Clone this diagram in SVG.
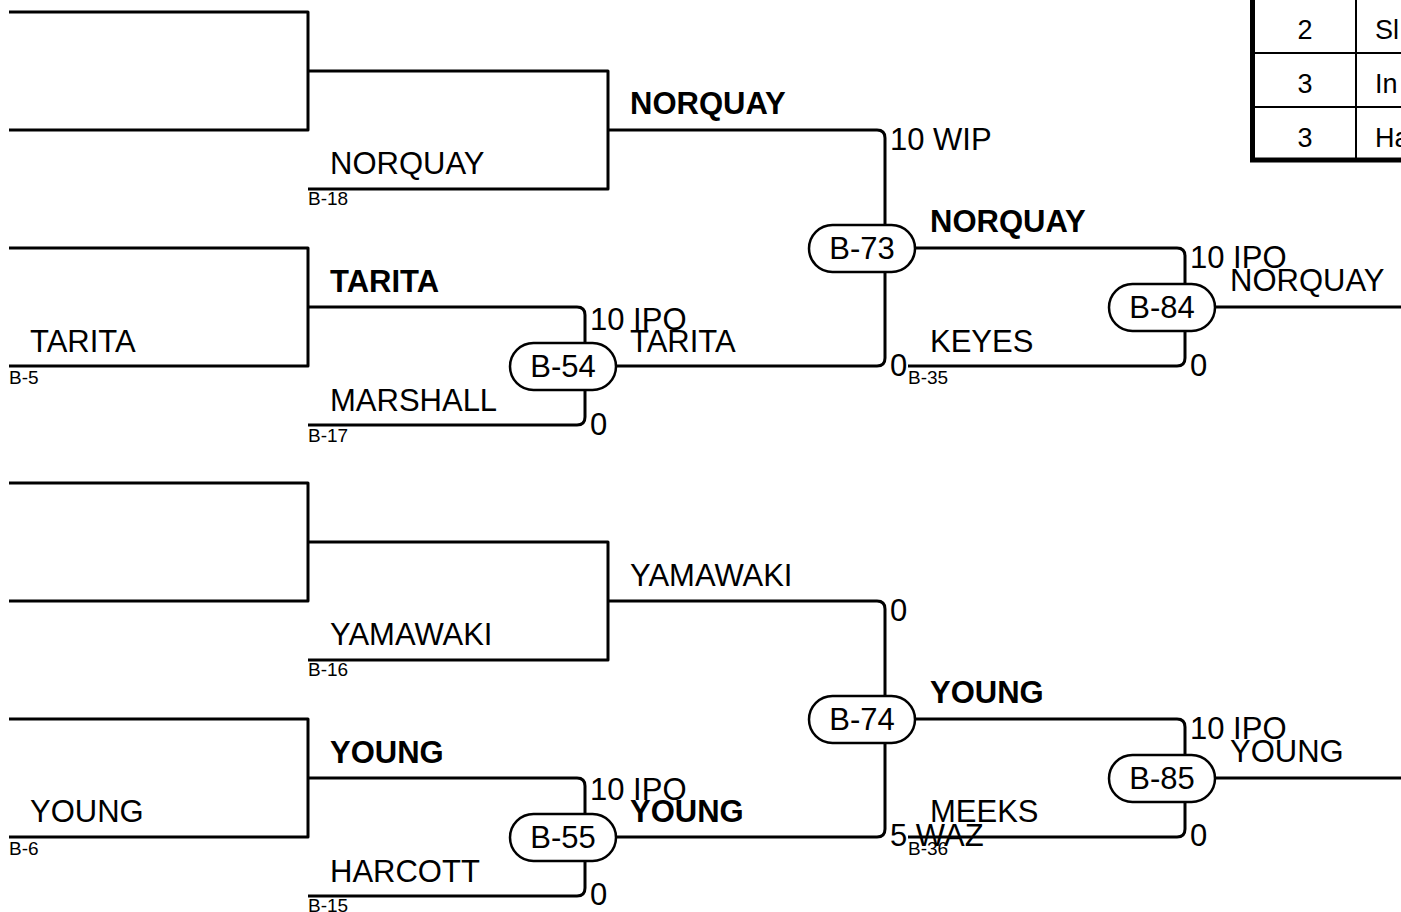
<svg xmlns="http://www.w3.org/2000/svg" width="1401" height="912" viewBox="0 0 1401 912">
<style>
.ln{fill:none;stroke:#000;stroke-width:3;stroke-linejoin:round}
.pill{fill:#fff;stroke:#000;stroke-width:2.5}
text{font-family:"Liberation Sans",Arial,sans-serif;fill:#000}
.t{font-size:31px}
.b{font-size:31px;font-weight:bold}
.s{font-size:19px}
.pl{font-size:31px;text-anchor:middle}
.tb{font-size:27px}
</style>
<rect width="1401" height="912" fill="#fff"/>
<g id="connectors">
<path class="ln" d="M9,12 H308 V130 H9"/>
<path class="ln" d="M308,71 H608 V189 H308"/>
<path class="ln" d="M608,130 H877 Q885,130 885,138 V358 Q885,366 877,366 H611"/>
<path class="ln" d="M910,248 H1177 Q1185,248 1185,256 V358 Q1185,366 1177,366 H908"/>
<path class="ln" d="M1210,307 H1401"/>
<path class="ln" d="M9,248 H308 V366 H9"/>
<path class="ln" d="M308,307 H577 Q585,307 585,315 V417 Q585,425 577,425 H308"/>
<path class="ln" d="M9,483 H308 V601 H9"/>
<path class="ln" d="M308,542 H608 V660 H308"/>
<path class="ln" d="M608,601 H877 Q885,601 885,609 V829 Q885,837 877,837 H611"/>
<path class="ln" d="M910,719 H1177 Q1185,719 1185,727 V829 Q1185,837 1177,837 H908"/>
<path class="ln" d="M1210,778 H1401"/>
<path class="ln" d="M9,719 H308 V837 H9"/>
<path class="ln" d="M308,778 H577 Q585,778 585,786 V888 Q585,896 577,896 H308"/>
</g>
<g id="B-73"><rect class="pill" x="809" y="225" width="106" height="47" rx="23.5"/><text class="pl" x="862" y="259">B-73</text></g>
<g id="B-84"><rect class="pill" x="1109" y="284" width="106" height="47" rx="23.5"/><text class="pl" x="1162" y="318">B-84</text></g>
<g id="B-54"><rect class="pill" x="510" y="343" width="106" height="47" rx="23.5"/><text class="pl" x="563" y="377">B-54</text></g>
<g id="B-74"><rect class="pill" x="809" y="696" width="106" height="47" rx="23.5"/><text class="pl" x="862" y="730">B-74</text></g>
<g id="B-85"><rect class="pill" x="1109" y="755" width="106" height="47" rx="23.5"/><text class="pl" x="1162" y="789">B-85</text></g>
<g id="B-55"><rect class="pill" x="510" y="814" width="106" height="47" rx="23.5"/><text class="pl" x="563" y="848">B-55</text></g>
<g id="labels">
<text class="t" x="330" y="174">NORQUAY</text>
<text class="s" x="308" y="205">B-18</text>
<text class="b" x="630" y="114">NORQUAY</text>
<text class="t" x="890" y="150">10 WIP</text>
<text class="b" x="930" y="232">NORQUAY</text>
<text class="t" x="890" y="376">0</text>
<text class="t" x="930" y="352">KEYES</text>
<text class="s" x="908" y="384">B-35</text>
<text class="t" x="1190" y="268">10 IPO</text>
<text class="t" x="1230" y="291">NORQUAY</text>
<text class="t" x="1190" y="376">0</text>
<text class="t" x="30" y="352">TARITA</text>
<text class="s" x="9" y="384">B-5</text>
<text class="b" x="330" y="292">TARITA</text>
<text class="t" x="330" y="411">MARSHALL</text>
<text class="s" x="308" y="442">B-17</text>
<text class="t" x="590" y="330">10 IPO</text>
<text class="t" x="630" y="352">TARITA</text>
<text class="t" x="590" y="435">0</text>
<text class="t" x="330" y="645">YAMAWAKI</text>
<text class="s" x="308" y="676">B-16</text>
<text class="t" x="630" y="586">YAMAWAKI</text>
<text class="t" x="890" y="621">0</text>
<text class="b" x="930" y="703">YOUNG</text>
<text class="t" x="930" y="822">MEEKS</text>
<text class="t" x="890" y="846">5 WAZ</text>
<text class="s" x="908" y="855">B-36</text>
<text class="t" x="1190" y="739">10 IPO</text>
<text class="t" x="1230" y="762">YOUNG</text>
<text class="t" x="1190" y="846">0</text>
<text class="t" x="30" y="822">YOUNG</text>
<text class="s" x="9" y="855">B-6</text>
<text class="b" x="330" y="763">YOUNG</text>
<text class="t" x="330" y="882">HARCOTT</text>
<text class="s" x="308" y="912">B-15</text>
<text class="t" x="590" y="800">10 IPO</text>
<text class="b" x="630" y="822">YOUNG</text>
<text class="t" x="590" y="905">0</text>
</g>
<g id="table">
<rect x="1252.5" y="-10" width="200" height="170" fill="#fff" stroke="#000" stroke-width="5"/>
<path d="M1252,53 H1401 M1252,107 H1401 M1356,-10 V160" stroke="#000" stroke-width="2" fill="none"/>
<text class="tb" x="1305" y="39" text-anchor="middle">2</text>
<text class="tb" x="1305" y="93" text-anchor="middle">3</text>
<text class="tb" x="1305" y="147" text-anchor="middle">3</text>
<text class="tb" x="1375" y="39">Sl</text>
<text class="tb" x="1375" y="93">In</text>
<text class="tb" x="1375" y="147">Ha</text>
</g>
</svg>
